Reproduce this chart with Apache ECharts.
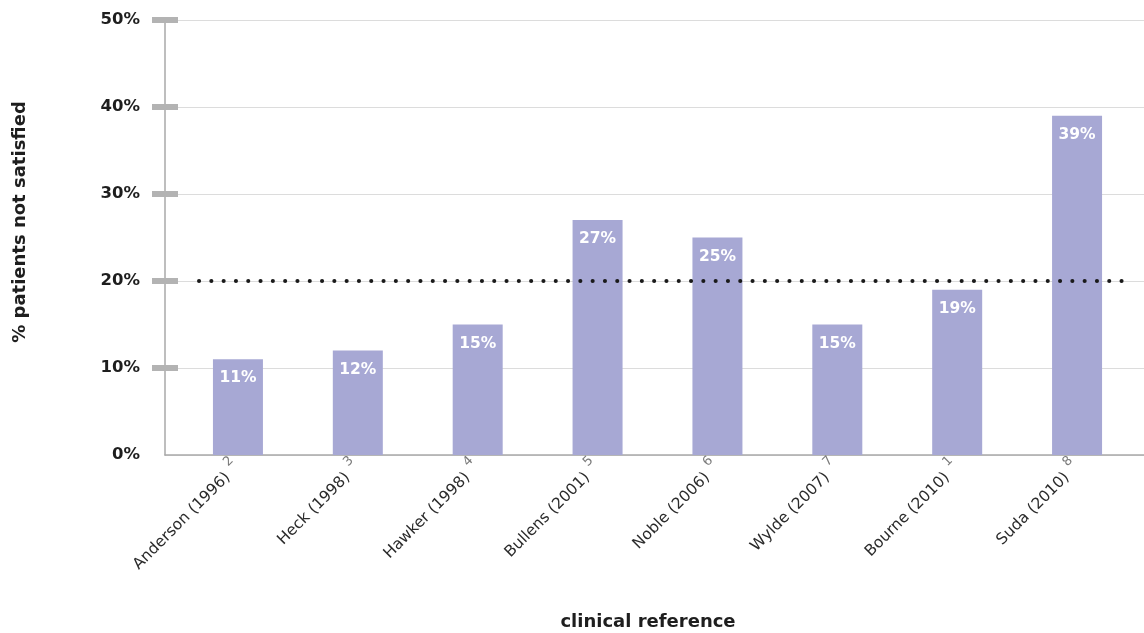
<!DOCTYPE html>
<html>
<head>
<meta charset="utf-8">
<script src="https://cdn.jsdelivr.net/npm/echarts@6/dist/echarts.min.js"></script>
<style>
  html, body { margin: 0; padding: 0; background: #fff; }
  #chart { width: 1144px; height: 633px; }
</style>
</head>
<body>
<div id="chart"></div>
<script>
// Studies, their reference numbers and share of patients not satisfied (%)
const studies = ['Anderson (1996)', 'Heck (1998)', 'Hawker (1998)', 'Bullens (2001)',
                 'Noble (2006)', 'Wylde (2007)', 'Bourne (2010)', 'Suda (2010)'];
const refNumbers = ['2', '3', '4', '5', '6', '7', '1', '8'];
const notSatisfied = [11, 12, 15, 27, 25, 15, 19, 39];
const averageLine = 20;
const yTicks = [0, 10, 20, 30, 40, 50];

const FONT = 'DejaVu Sans';
const chart = echarts.init(document.getElementById('chart'));

chart.setOption({
  animation: false,
  textStyle: { fontFamily: FONT },
  grid: [
    // frame: axis line, gridlines and bottom line
    { left: 165, right: 0, top: 20, bottom: 178 },
    // bars and category labels
    { left: 178, right: 7, top: 20, bottom: 178 }
  ],
  xAxis: [
    {
      gridIndex: 0, type: 'category', data: studies,
      axisLine: { show: true, lineStyle: { color: '#a9a9a9', width: 1.5 } },
      axisTick: { show: false }, axisLabel: { show: false }
    },
    {
      gridIndex: 1, type: 'category', data: studies,
      axisLine: { show: false }, axisTick: { show: false },
      axisLabel: {
        interval: 0, rotate: 45, margin: 10,
        formatter: (v, i) => '{n|' + v + '}{s|' + refNumbers[i] + '}',
        rich: {
          n: { fontFamily: FONT, fontSize: 15.5, color: '#2b2b2b' },
          s: { fontFamily: FONT, fontSize: 13, color: '#7a7a7a', padding: [0, 0, 18, 6] }
        }
      }
    }
  ],
  yAxis: [
    {
      gridIndex: 0, type: 'value', min: yTicks[0], max: yTicks[yTicks.length - 1], interval: 10,
      axisLine: { show: true, lineStyle: { color: '#a9a9a9', width: 1.5 } },
      axisTick: { show: false }, axisLabel: { show: false },
      splitLine: { show: true, lineStyle: { color: '#dcdcdc', width: 1.2 } }
    },
    {
      gridIndex: 1, type: 'value', min: yTicks[0], max: yTicks[yTicks.length - 1], interval: 10,
      axisLine: { show: false },
      axisTick: {
        show: true, length: 26, customValues: yTicks.slice(1),
        lineStyle: { color: '#b3b3b3', width: 6 }
      },
      splitLine: { show: false },
      axisLabel: {
        margin: 38, formatter: '{value}%',
        fontFamily: FONT, fontSize: 16.5, fontWeight: 'bold', color: '#1e1e1e'
      }
    }
  ],
  graphic: [
    {
      type: 'text', x: 20, y: 222, rotation: Math.PI / 2,
      style: {
        text: '% patients not satisfied', fontFamily: FONT, fontSize: 18,
        fontWeight: 'bold', fill: '#1e1e1e', align: 'center', verticalAlign: 'middle'
      }
    },
    {
      type: 'text', x: 648, y: 622,
      style: {
        text: 'clinical reference', fontFamily: FONT, fontSize: 18,
        fontWeight: 'bold', fill: '#1e1e1e', align: 'center', verticalAlign: 'middle'
      }
    }
  ],
  series: [
    {
      type: 'bar', xAxisIndex: 1, yAxisIndex: 1,
      data: notSatisfied, barWidth: 50,
      itemStyle: { color: '#a7a8d4' },
      label: {
        show: true, position: 'insideTop', distance: 11,
        formatter: '{c}%', color: '#fff', fontFamily: FONT,
        fontSize: 15.5, fontWeight: 'bold'
      },
      markLine: {
        silent: true, symbol: 'none', label: { show: false },
        lineStyle: { color: '#1a1a1a', width: 4, type: [0.1, 12.2], cap: 'round' },
        data: [[{ x: 199, yAxis: averageLine }, { x: 1124, yAxis: averageLine }]]
      }
    }
  ]
});
</script>
</body>
</html>
